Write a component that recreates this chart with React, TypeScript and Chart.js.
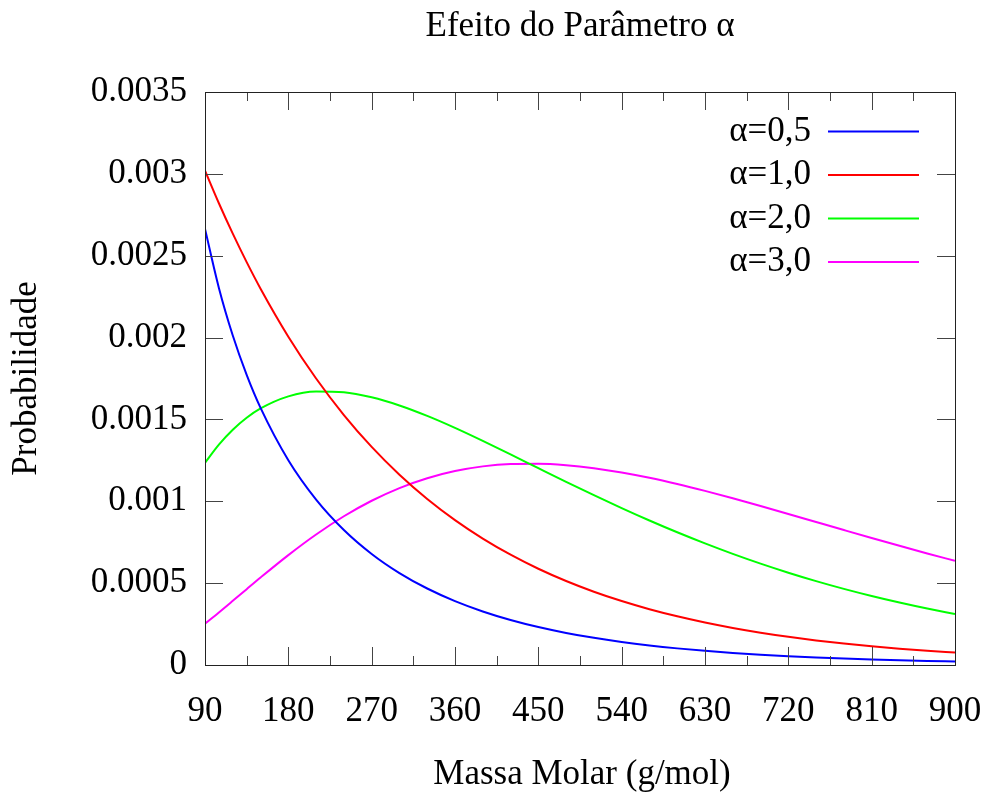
import React, { useEffect, useRef } from "react";
import { Chart, registerables } from "chart.js";

Chart.register(...registerables);

// Molar mass samples (g/mol)
const massa = [90, 105, 120, 135, 150, 180, 210, 240, 270, 300, 330, 360, 390, 420, 450, 480, 510, 540, 570, 600, 630, 660, 690, 720, 750, 780, 810, 840, 870, 900];

const alpha05 = [0.0026633, 0.0023032, 0.0020125, 0.0017723, 0.0015706, 0.001251, 0.0010105, 0.00082479, 0.00067846, 0.00056161, 0.0004672, 0.0003903, 0.00032719, 0.00027509, 0.00023189, 0.0001959, 0.00016583, 0.00014061, 0.00011942, 0.00010155, 0.000086474, 0.000073714, 0.000062903, 0.000053732, 0.000045933, 0.0000393, 0.000033652, 0.000028831, 0.000024719, 0.000021205];
const alpha10 = [0.0030193, 0.0028203, 0.0026345, 0.0024608, 0.0022986, 0.0020056, 0.0017499, 0.0015269, 0.0013322, 0.0011624, 0.0010142, 0.00088495, 0.00077213, 0.0006737, 0.00058783, 0.00051289, 0.00044751, 0.00039046, 0.00034069, 0.00029726, 0.00025937, 0.0002263, 0.00019745, 0.00017229, 0.00015032, 0.00013116, 0.00011445, 0.000099855, 0.000087127, 0.000076018];
const alpha20 = [0.0012352, 0.0013461, 0.001437, 0.0015101, 0.0015673, 0.001641, 0.0016704, 0.0016657, 0.001635, 0.0015852, 0.0015213, 0.0014481, 0.0013687, 0.0012862, 0.0012024, 0.0011191, 0.0010375, 0.0009584, 0.0008827, 0.0008107, 0.0007428, 0.0006789, 0.0006193, 0.0005639, 0.0005125, 0.000465, 0.0004214, 0.0003813, 0.0003446, 0.000311];
const alpha30 = [0.00025265, 0.00032122, 0.0003919, 0.00046331, 0.00053429, 0.0006713, 0.00079723, 0.00090855, 0.0010033, 0.0010808, 0.001141, 0.0011848, 0.0012132, 0.0012277, 0.0012297, 0.0012208, 0.0012025, 0.0011762, 0.0011435, 0.0011055, 0.0010635, 0.0010184, 0.0009712, 0.0009227, 0.0008735, 0.0008244, 0.0007757, 0.0007279, 0.0006813, 0.0006361];

const seriesLabels = ["α=0,5", "α=1,0", "α=2,0", "α=3,0"];
const seriesColors = ["#0000ff", "#ff0000", "#00ff00", "#ff00ff"];

const xTicks = [90, 180, 270, 360, 450, 540, 630, 720, 810, 900];
const xMinorTicks = [135, 225, 315, 405, 495, 585, 675, 765, 855];
const yTickLabels = ["0", "0.0005", "0.001", "0.0015", "0.002", "0.0025", "0.003", "0.0035"];

const titleText = "Efeito do Parâmetro α";
const xTitle = "Massa Molar (g/mol)";
const yTitle = "Probabilidade";

const FONT = "'Liberation Serif', 'Times New Roman', serif";

const decorPlugin = {
  id: "decor",
  afterDraw(chart: any) {
    const ctx = chart.ctx;
    const ca = chart.chartArea;
    const xs = chart.scales.x;
    const ys = chart.scales.y;
    ctx.save();
    // ticks (inward, mirrored)
    ctx.strokeStyle = "#444";
    ctx.lineWidth = 1;
    ctx.beginPath();
    const tickX = (v: number, len: number) => {
      const px = Math.round(xs.getPixelForValue(v)) + 0.5;
      ctx.moveTo(px, ca.bottom);
      ctx.lineTo(px, ca.bottom - len);
      ctx.moveTo(px, ca.top);
      ctx.lineTo(px, ca.top + len);
    };
    xTicks.forEach((v) => tickX(v, 18));
    xMinorTicks.forEach((v) => tickX(v, 9));
    yTickLabels.forEach((s) => {
      const py = Math.round(ys.getPixelForValue(parseFloat(s))) + 0.5;
      ctx.moveTo(ca.left, py);
      ctx.lineTo(ca.left + 18, py);
      ctx.moveTo(ca.right, py);
      ctx.lineTo(ca.right - 18, py);
    });
    ctx.stroke();
    // border
    ctx.strokeStyle = "#222";
    ctx.strokeRect(Math.round(ca.left) + 0.5, Math.round(ca.top) + 0.5, Math.round(ca.right - ca.left), Math.round(ca.bottom - ca.top));

    // texts
    ctx.fillStyle = "#000";
    ctx.font = `35px ${FONT}`;
    ctx.textAlign = "center";
    ctx.textBaseline = "middle";
    const cx = (ca.left + ca.right) / 2;
    ctx.fillText(titleText, cx, 27);
    ctx.fillText(xTitle, cx + 2, 775);
    ctx.save();
    ctx.translate(27, (ca.top + ca.bottom) / 2);
    ctx.rotate(-Math.PI / 2);
    ctx.fillText(yTitle, 0, 0);
    ctx.restore();

    // legend (text right-aligned, sample line on the right)
    chart.data.datasets.forEach((ds: any, i: number) => {
      const y = ca.top + 39.5 + i * 43.5;
      ctx.textAlign = "right";
      ctx.fillStyle = "#000";
      ctx.fillText(ds.label, ca.right - 144, y);
      ctx.strokeStyle = ds.borderColor;
      ctx.lineWidth = 2;
      ctx.beginPath();
      ctx.moveTo(ca.right - 127, y);
      ctx.lineTo(ca.right - 36, y);
      ctx.stroke();
    });
    ctx.restore();
  },
};

export default function App() {
  const ref = useRef<HTMLCanvasElement | null>(null);
  useEffect(() => {
    if (!ref.current) return;
    const series = [alpha05, alpha10, alpha20, alpha30];
    const chart = new Chart(ref.current, {
      type: "line",
      data: {
        datasets: series.map((vals, i) => ({
          label: seriesLabels[i],
          data: massa.map((x, j) => ({ x, y: vals[j] })),
          borderColor: seriesColors[i],
          backgroundColor: seriesColors[i],
          borderWidth: 2,
          pointRadius: 0,
          fill: false,
          cubicInterpolationMode: "monotone" as const,
        })),
      },
      options: {
        animation: false,
        responsive: false,
        layout: { padding: { top: 92, right: 34, left: 0, bottom: 0 } },
        plugins: { legend: { display: false }, title: { display: false }, tooltip: { enabled: false } },
        scales: {
          x: {
            type: "linear",
            min: 90,
            max: 900,
            afterBuildTicks: (scale: any) => {
              scale.ticks = xTicks.map((v) => ({ value: v }));
            },
            afterFit: (scale: any) => {
              scale.height = 131;
              scale.paddingLeft = 0;
              scale.paddingRight = 0;
            },
            ticks: {
              color: "#000",
              font: { family: FONT, size: 35 },
              padding: 26,
              maxRotation: 0,
              autoSkip: false,
              callback: (v: any) => String(v),
            },
            grid: { display: false, drawTicks: false },
            border: { display: false },
          },
          y: {
            type: "linear",
            min: 0,
            max: 0.0035,
            afterBuildTicks: (scale: any) => {
              scale.ticks = yTickLabels.map((s) => ({ value: parseFloat(s) }));
            },
            afterFit: (scale: any) => {
              scale.width = 205;
              scale.paddingTop = 0;
              scale.paddingBottom = 0;
            },
            ticks: {
              color: "#000",
              font: { family: FONT, size: 35 },
              padding: 18,
              autoSkip: false,
              callback: (v: any) => {
                const idx = yTickLabels.findIndex((s) => Math.abs(parseFloat(s) - v) < 1e-9);
                return idx >= 0 ? yTickLabels[idx] : "";
              },
            },
            grid: { display: false, drawTicks: false },
            border: { display: false },
          },
        },
      },
      plugins: [decorPlugin],
    });
    return () => chart.destroy();
  }, []);
  return (
    <div style={{ position: "absolute", left: 0, top: 0, width: 989, height: 796, background: "#fff" }}>
      <canvas ref={ref} width={989} height={796} style={{ display: "block" }} />
    </div>
  );
}
